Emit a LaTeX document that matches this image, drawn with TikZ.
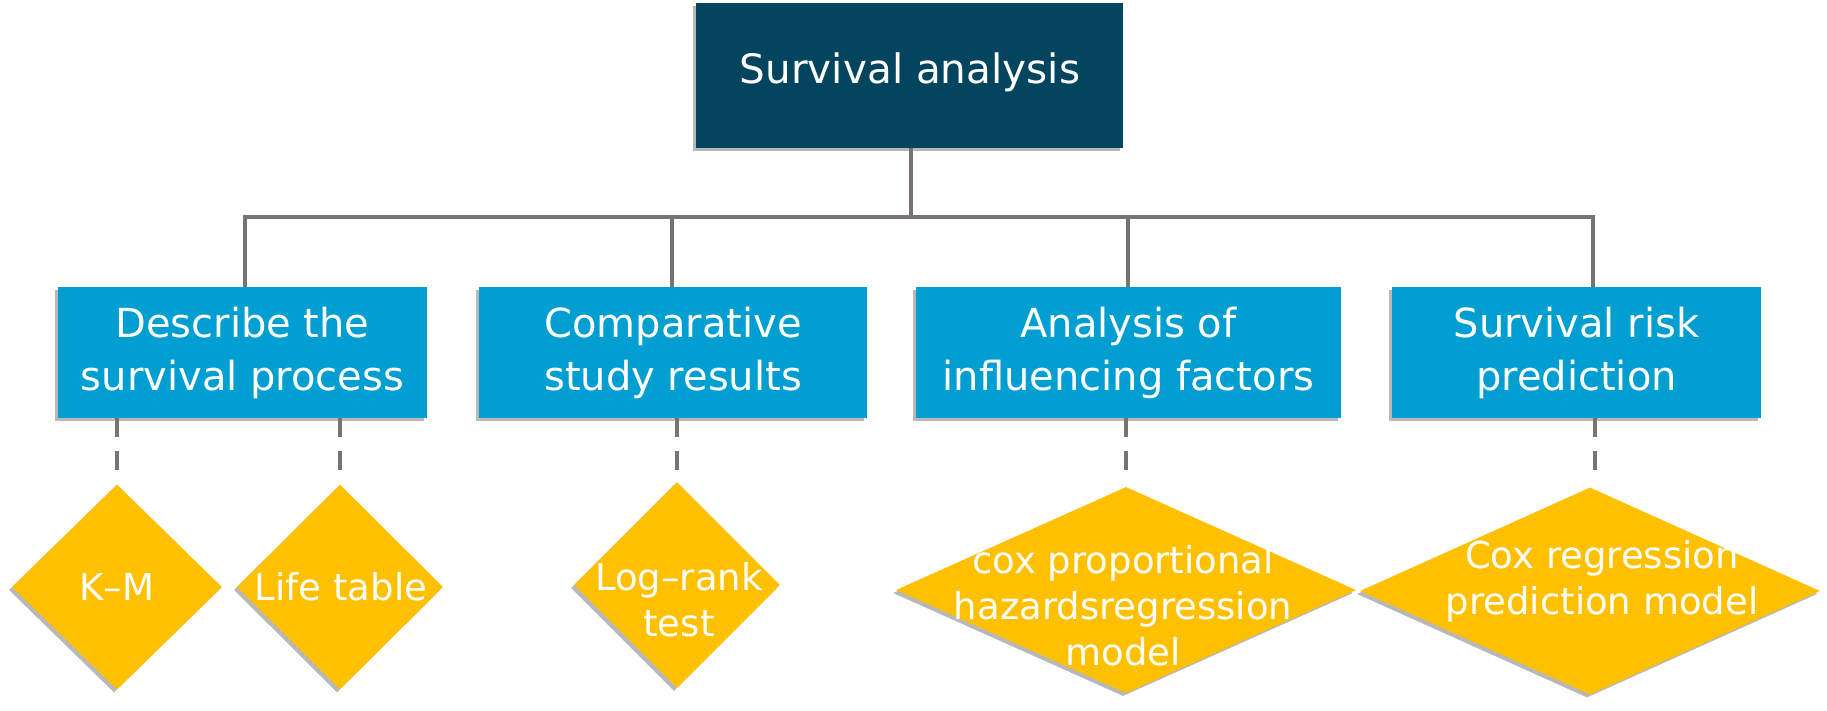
\documentclass[tikz,border=0pt]{standalone}
\usepackage{fontspec}
\setmainfont{DejaVu Sans}
\usetikzlibrary{shapes.geometric,shadows}
\definecolor{topc}{HTML}{03455F}
\definecolor{boxc}{HTML}{019ED2}
\definecolor{dmdc}{HTML}{FFC000}
\definecolor{linec}{HTML}{787373}
\tikzset{
  shd/.style={drop shadow={shadow xshift=-3pt,shadow yshift=-3pt,fill=black,opacity=0.28}},
  topbox/.style={rectangle,fill=topc,shd,text=white,inner sep=0pt},
  midbox/.style={rectangle,fill=boxc,shd,text=white,inner sep=0pt,align=center,
     minimum height=131pt,font=\fontsize{40}{53}\selectfont},
  dmd/.style={diamond,fill=dmdc,shd,inner sep=0pt},
  dtext/.style={text=white,align=center,inner sep=0pt,font=\fontsize{37}{46}\selectfont},
  conn/.style={draw=linec,line width=4pt},
  dconn/.style={draw=linec,line width=4pt,dash pattern=on 19pt off 14pt,shorten >=12pt}
}
\begin{document}
\begin{tikzpicture}[x=1pt,y=-1pt]
\useasboundingbox[fill=white] (0,0) rectangle (1827,711);
% top
\node[topbox,minimum width=427pt,minimum height=145pt] (top) at (909.5,75.5) {};
\node[text=white,font=\fontsize{40.5}{52}\selectfont,inner sep=0pt] (toptext) at (910,72) {Survival analysis};
% second level
\node[midbox,minimum width=369pt] (b1) at (242.5,352.5) {Describe the\\survival process};
\node[midbox,minimum width=388pt] (b2) at (673,352.5) {Comparative\\study results};
\node[midbox,minimum width=425pt] (b3) at (1128.5,352.5) {Analysis of\\influencing factors};
\node[midbox,minimum width=369pt] (b4) at (1576.5,352.5) {Survival risk\\prediction};
% tree connectors
\coordinate (hb) at (911,217);
\coordinate (j1) at (245,217);
\coordinate (j2) at (672,217);
\coordinate (j3) at (1128,217);
\coordinate (j4) at (1593,217);
\draw[conn] (top.south -| hb) -- (hb);
\draw[conn] ([xshift=-2pt]j1) -- ([xshift=2pt]j4);
\draw[conn] (j1) -- (j1 |- b1.north);
\draw[conn] (j2) -- (j2 |- b2.north);
\draw[conn] (j3) -- (j3 |- b3.north);
\draw[conn] (j4) -- (j4 |- b4.north);
% diamonds
\node[dmd,minimum width=210pt,minimum height=205pt] (km) at (117,587) {};
\node[dmd,minimum width=206pt,minimum height=205pt] (lt) at (340,587) {};
\node[dmd,minimum width=206pt,minimum height=206pt] (lr) at (677,585) {};
\node[dmd,minimum width=460pt,minimum height=206pt] (cph) at (1126,590) {};
\node[dmd,minimum width=460pt,minimum height=207pt] (crp) at (1590,591) {};
\node[dtext] (kmt) at (117,587) {K–M};
\node[dtext] (ltt) at (341,587) {Life table};
\node[dtext] (lrt) at (679,600) {Log–rank\\test};
\node[dtext] (cpht) at (1123,606) {cox proportional\\hazardsregression\\model};
\node[dtext] (crpt) at (1602,581) {Cox regression\\prediction model};
% dashed connectors
\draw[dconn] (km.north |- b1.south) -- (km.north);
\draw[dconn] (lt.north |- b1.south) -- (lt.north);
\draw[dconn] (lr.north |- b2.south) -- (lr.north);
\draw[dconn] (cph.north |- b3.south) -- (cph.north);
\draw[dconn] ([xshift=5pt]crp.north |- b4.south) -- ([xshift=5pt]crp.north);
\end{tikzpicture}
\end{document}
